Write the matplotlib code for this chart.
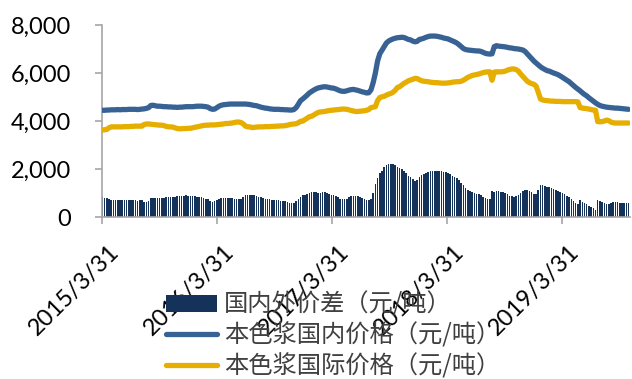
import matplotlib
matplotlib.use("Agg")
import matplotlib.pyplot as plt
from matplotlib.ticker import FuncFormatter
import matplotlib.transforms as mtransforms
import numpy as np
import pandas as pd

plt.rcParams['font.family'] = ['Lato', 'Noto Sans CJK SC', 'DejaVu Sans']

# Weekly observations starting 2015/3/31
start_date = "2015-03-31"
n_weeks = 240

# Unbleached pulp, domestic price (yuan/ton)
domestic = [
    4450, 4450, 4460, 4460, 4470, 4470, 4470, 4480, 4470, 4480,
    4480, 4480, 4490, 4490, 4490, 4490, 4480, 4490, 4500, 4510,
    4530, 4560, 4650, 4660, 4640, 4620, 4620, 4610, 4600, 4600,
    4590, 4590, 4580, 4580, 4570, 4580, 4580, 4590, 4600, 4600,
    4600, 4600, 4610, 4620, 4620, 4620, 4610, 4600, 4580, 4520,
    4490, 4500, 4560, 4620, 4660, 4680, 4690, 4700, 4710, 4710,
    4710, 4710, 4710, 4710, 4710, 4710, 4700, 4690, 4670, 4650,
    4640, 4610, 4580, 4560, 4540, 4530, 4510, 4500, 4490, 4490,
    4490, 4480, 4480, 4470, 4470, 4460, 4460, 4480, 4560, 4700,
    4850, 4920, 5000, 5080, 5170, 5230, 5290, 5340, 5380, 5400,
    5420, 5430, 5420, 5400, 5380, 5370, 5340, 5300, 5260, 5240,
    5240, 5260, 5290, 5310, 5320, 5300, 5280, 5250, 5220, 5200,
    5170, 5180, 5300, 5600, 6000, 6500, 6800, 6950, 7100, 7250,
    7330, 7380, 7420, 7450, 7470, 7480, 7490, 7480, 7440, 7400,
    7380, 7330, 7300, 7320, 7400, 7420, 7450, 7490, 7520, 7540,
    7540, 7540, 7530, 7510, 7490, 7460, 7440, 7420, 7380, 7340,
    7300, 7250, 7180, 7100, 7020, 6980, 6960, 6950, 6940, 6930,
    6920, 6920, 6900, 6860, 6820, 6800, 6790, 6800, 7100, 7140,
    7120, 7110, 7100, 7090, 7070, 7050, 7040, 7020, 7010, 7000,
    6980, 6960, 6900, 6800, 6700, 6600, 6500, 6420, 6340, 6260,
    6200, 6150, 6100, 6080, 6040, 6000, 5970, 5930, 5880, 5820,
    5760, 5700, 5640, 5560, 5480, 5400, 5330, 5260, 5180, 5110,
    5050, 4970, 4900, 4830, 4760, 4700, 4650, 4620, 4600, 4580,
    4570, 4560, 4550, 4540, 4540, 4530, 4520, 4510, 4500, 4490,
]

# Unbleached pulp, international price (yuan/ton)
international = [
    3630, 3640, 3650, 3720, 3760, 3760, 3760, 3760, 3760, 3760,
    3770, 3770, 3770, 3780, 3780, 3790, 3790, 3790, 3790, 3860,
    3880, 3880, 3870, 3860, 3850, 3840, 3830, 3830, 3810, 3780,
    3760, 3760, 3750, 3720, 3690, 3680, 3680, 3690, 3690, 3700,
    3700, 3720, 3740, 3760, 3780, 3800, 3820, 3830, 3830, 3840,
    3840, 3840, 3850, 3860, 3870, 3880, 3900, 3900, 3910, 3920,
    3940, 3960, 3960, 3940, 3880, 3790, 3760, 3760, 3730, 3740,
    3750, 3760, 3760, 3760, 3770, 3770, 3770, 3780, 3780, 3790,
    3790, 3800, 3800, 3810, 3830, 3850, 3870, 3880, 3890, 3930,
    3990, 4000, 4060, 4120, 4180, 4200, 4250, 4310, 4360, 4380,
    4390, 4400, 4420, 4440, 4450, 4460, 4470, 4480, 4490, 4500,
    4500, 4490, 4470, 4440, 4420, 4400, 4400, 4410, 4420, 4430,
    4450, 4480, 4560, 4580, 4600, 4850, 4980, 5010, 5030, 5080,
    5120, 5150, 5200, 5280, 5400, 5430, 5500, 5570, 5620, 5680,
    5710, 5740, 5780, 5770, 5720, 5680, 5660, 5650, 5640, 5620,
    5610, 5600, 5600, 5590, 5580, 5580, 5580, 5590, 5600, 5620,
    5630, 5640, 5640, 5660, 5700, 5760, 5820, 5860, 5900, 5920,
    5940, 5960, 5990, 6020, 6040, 6050, 6050, 5700, 6040, 6050,
    6050, 6050, 6060, 6080, 6120, 6150, 6170, 6170, 6140, 6080,
    5960, 5860, 5760, 5660, 5600, 5560, 5530, 5460, 5200, 4920,
    4880, 4860, 4850, 4840, 4830, 4830, 4820, 4820, 4820, 4810,
    4810, 4810, 4810, 4810, 4810, 4810, 4800, 4560, 4540, 4530,
    4520, 4500, 4480, 4460, 4450, 3980, 3970, 3980, 4000, 4040,
    4020, 3960, 3930, 3920, 3920, 3920, 3920, 3920, 3920, 3920,
]

tick_dates = ["2015-03-31", "2016-03-31", "2017-03-31", "2018-03-31", "2019-03-31"]
tick_labels = ["2015/3/31", "2016/3/31", "2017/3/31", "2018/3/31", "2019/3/31"]

label_spread = "国内外价差（元/吨）"
label_domestic = "本色浆国内价格（元/吨）"
label_international = "本色浆国际价格（元/吨）"

dates = pd.date_range(start_date, periods=n_weeks, freq="7D")
dom = np.array(domestic, dtype=float)
intl = np.array(international, dtype=float)
spread = dom - intl

c_bar = "#14325A"
c_dom = "#386294"
c_intl = "#E5AE00"
c_axis = "#A6A6A6"

fig = plt.figure(figsize=(6.32, 3.79), dpi=100)
ax = fig.add_axes([0.161, 0.427, 0.836, 0.507])

h_bar = ax.bar(dates, spread, width=5.0, color=c_bar, linewidth=0,
               label=label_spread, zorder=1)
h_dom, = ax.plot(dates, dom, color=c_dom, lw=3.8, solid_capstyle="round",
                 label=label_domestic, zorder=3)
h_intl, = ax.plot(dates, intl, color=c_intl, lw=3.8, solid_capstyle="round",
                  label=label_international, zorder=3)

ax.set_ylim(0, 8000)
ax.set_yticks([0, 2000, 4000, 6000, 8000])
ax.yaxis.set_major_formatter(FuncFormatter(lambda v, p: f"{int(v):,}"))
ax.set_xlim(dates[0] - pd.Timedelta(days=2), dates[-1] + pd.Timedelta(days=5))
ax.set_xticks(pd.to_datetime(tick_dates))
ax.set_xticklabels(tick_labels, rotation=45, ha="right", va="top",
                   rotation_mode="anchor")

for side in ("top", "right"):
    ax.spines[side].set_visible(False)
for side in ("left", "bottom"):
    ax.spines[side].set_color(c_axis)
    ax.spines[side].set_linewidth(1.2)
ax.tick_params(axis="both", colors=c_axis, labelcolor="black", labelsize=17,
               length=5, width=1.2, direction="out")
ax.tick_params(axis="y", pad=17)
ax.tick_params(axis="x", pad=12)

# nudge the rotated date labels slightly to the right of their ticks
shift = mtransforms.ScaledTranslation(6 / 100, 0, fig.dpi_scale_trans)
for lbl in ax.get_xticklabels():
    lbl.set_transform(lbl.get_transform() + shift)

leg = fig.legend([h_bar, h_dom, h_intl],
                 [label_spread, label_domestic, label_international],
                 loc="upper left", bbox_to_anchor=(166 / 632, 1 - 292 / 379),
                 frameon=False, handlelength=2.1,
                 handletextpad=0.3, labelspacing=0.2, borderaxespad=0,
                 borderpad=0,
                 prop={"family": ["Noto Sans CJK SC", "DejaVu Sans"], "size": 17.5})
for t in leg.get_texts():
    t.set_color("#404040")

fig.savefig("out.png", dpi=100)
